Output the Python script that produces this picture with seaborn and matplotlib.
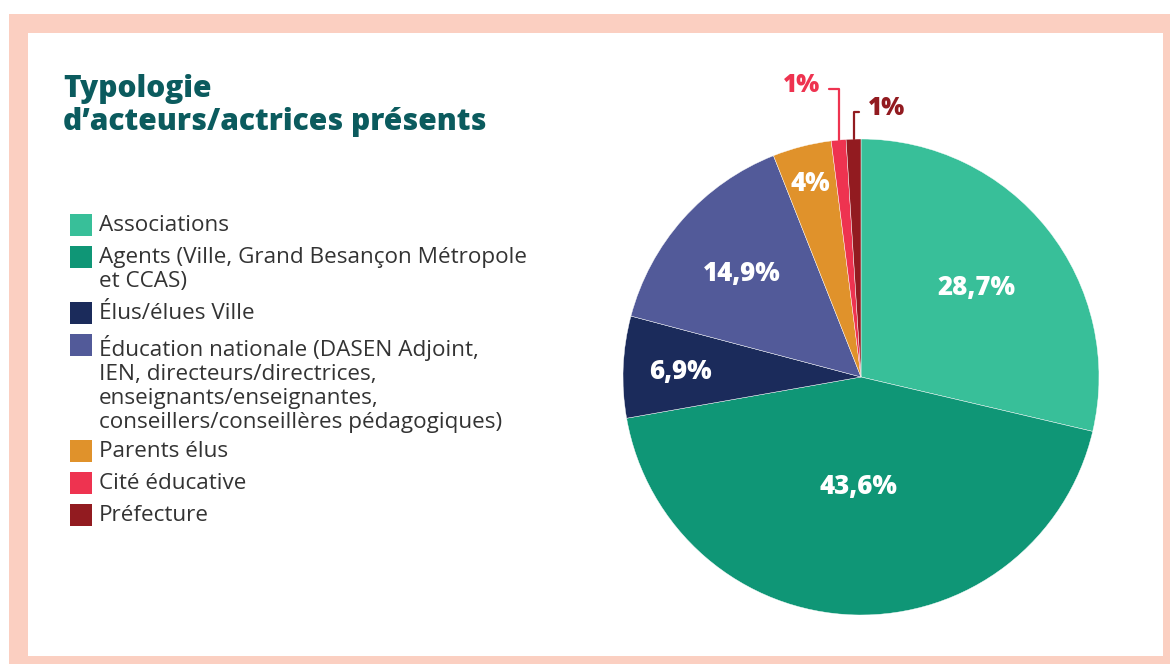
import matplotlib
matplotlib.use("Agg")
import matplotlib.pyplot as plt
from matplotlib.patches import Rectangle
import numpy as np
import seaborn as sns

# data
categories = [
    "Associations",
    "Agents (Ville, Grand Besançon Métropole\net CCAS)",
    "Élus/élues Ville",
    "Éducation nationale (DASEN Adjoint,\nIEN, directeurs/directrices,\nenseignants/enseignantes,\nconseillers/conseillères pédagogiques)",
    "Parents élus",
    "Cité éducative",
    "Préfecture",
]
shares = [28.7, 43.6, 6.9, 14.9, 4.0, 1.0, 1.0]
share_labels = ["28,7%", "43,6%", "6,9%", "14,9%", "4%", "1%", "1%"]
colors = ["#38BF99", "#0F9676", "#1B2B5B", "#525A99", "#E0922B", "#EE3350", "#921B20"]

W, H = 1170, 664


def fx(px):
    return px / W


def fy(py):
    return 1 - py / H


sns.set_theme(style="white")
plt.rcParams["font.family"] = ["Open Sans", "DejaVu Sans"]
palette = sns.color_palette(colors)

fig = plt.figure(figsize=(W / 100, H / 100), dpi=100)
fig.patch.set_facecolor("white")

# pink frame
fig.patches.append(Rectangle((fx(9), 0), 1 - fx(9), fy(14), transform=fig.transFigure,
                             facecolor="#FBCFC1", edgecolor="none", zorder=-2))
fig.patches.append(Rectangle((fx(28), fy(656)), fx(1163) - fx(28), fy(33) - fy(656),
                             transform=fig.transFigure, facecolor="white",
                             edgecolor="none", zorder=-1))

# pie
cx, cy, r = 861, 377, 238
ax = fig.add_axes([fx(cx - r), fy(cy + r), 2 * r / W, 2 * r / H], zorder=3)
ax.patch.set_alpha(0)
wedges, _ = ax.pie(shares, colors=palette, startangle=90, counterclock=False,
                   wedgeprops=dict(edgecolor="white", linewidth=0.3))
ax.set_xlim(-1, 1)
ax.set_ylim(-1, 1)
ax.set_aspect("equal")
ax.axis("off")

inner_dist = [0.62, 0.45, 0.76, 0.67, 0.85]
for w, lab, d in zip(wedges[:5], share_labels[:5], inner_dist):
    a = np.deg2rad((w.theta1 + w.theta2) / 2)
    ax.text(d * np.cos(a), d * np.sin(a), lab, ha="center", va="center_baseline",
            color="white", fontsize=18.5, fontweight="heavy")

# small slices with leader lines
outside = [(5, (-0.172, 1.225), "right", (1.0, 0.35)),
           (6, (0.03, 1.13), "left", (0.0, 0.35))]
for i, xytext, ha, rel in outside:
    w = wedges[i]
    a = np.deg2rad((w.theta1 + w.theta2) / 2)
    ax.annotate(share_labels[i], xy=(np.cos(a), np.sin(a)), xytext=xytext,
                ha=ha, va="center", color=colors[i], fontsize=17.5, fontweight="heavy",
                annotation_clip=False,
                arrowprops=dict(arrowstyle="-", color=colors[i], lw=1.6,
                                shrinkA=4, shrinkB=0, relpos=rel,
                                connectionstyle="angle,angleA=0,angleB=90,rad=0"))

# title
fig.text(fx(63), fy(74), "Typologie\nd’acteurs/actrices présents", ha="left", va="top",
         fontsize=21.5, fontweight="heavy", color="#0B5B5E", linespacing=1.14)

# legend drawn by hand so squares sit on the first line
y = 225
for lab, col in zip(categories, colors):
    fig.patches.append(Rectangle((fx(70), fy(y + 11)), 22 / W, 22 / H,
                                 transform=fig.transFigure, facecolor=col,
                                 edgecolor="none"))
    fig.text(fx(99), fy(y - 10), lab, ha="left", va="top", fontsize=16.2,
             color="#333333", linespacing=1.2)
    y += (lab.count("\n")) * 25 + 31.6

fig.savefig("out.png", dpi=100)
